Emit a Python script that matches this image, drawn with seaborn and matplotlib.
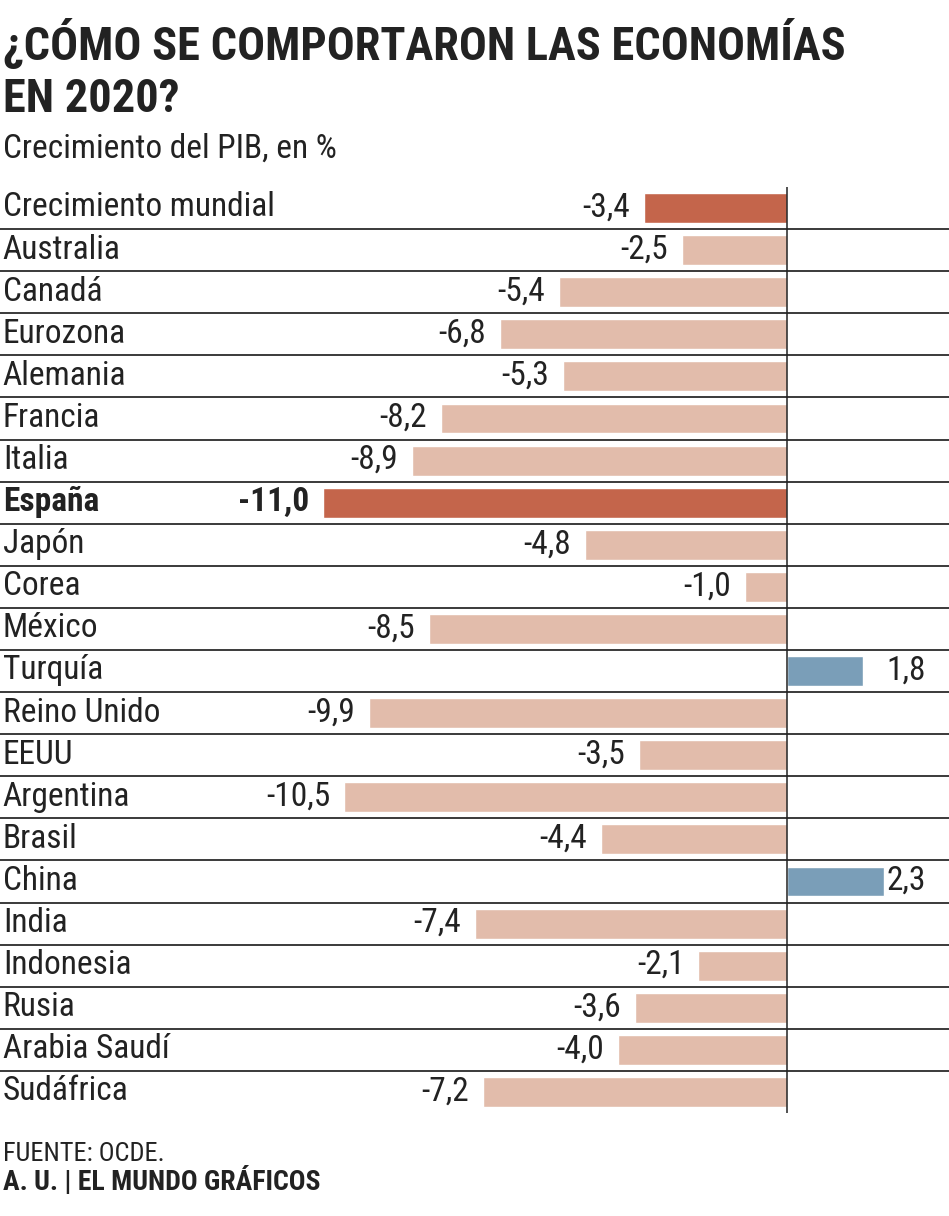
import matplotlib
matplotlib.use('Agg')
import matplotlib.pyplot as plt
from matplotlib import font_manager
import seaborn as sns
import pandas as pd

# datos
paises = ['Crecimiento mundial', 'Australia', 'Canadá', 'Eurozona', 'Alemania',
          'Francia', 'Italia', 'España', 'Japón', 'Corea', 'México', 'Turquía',
          'Reino Unido', 'EEUU', 'Argentina', 'Brasil', 'China', 'India',
          'Indonesia', 'Rusia', 'Arabia Saudí', 'Sudáfrica']
valores = [-3.4, -2.5, -5.4, -6.8, -5.3, -8.2, -8.9, -11.0, -4.8, -1.0, -8.5, 1.8,
           -9.9, -3.5, -10.5, -4.4, 2.3, -7.4, -2.1, -3.6, -4.0, -7.2]
destacados = ['Crecimiento mundial', 'España']

titulo = '¿CÓMO SE COMPORTARON LAS ECONOMÍAS\nEN 2020?'
subtitulo = 'Crecimiento del PIB, en %'
fuente_txt = 'FUENTE: OCDE.'
firma = 'A. U. | EL MUNDO GRÁFICOS'

ROJO = '#C4654B'
ROSA = '#E2BCAB'
AZUL = '#7A9EB8'

df = pd.DataFrame({'pais': paises, 'valor': valores})
colores = {}
for p, v in zip(paises, valores):
    if p in destacados:
        colores[p] = ROJO
    elif v > 0:
        colores[p] = AZUL
    else:
        colores[p] = ROSA

# estilo
sns.set_theme(style='white')
nombres = {f.name for f in font_manager.fontManager.ttflist}
letra = 'Roboto Condensed' if 'Roboto Condensed' in nombres else 'Roboto'
plt.rcParams['font.family'] = [letra, 'DejaVu Sans']

fig = plt.figure(figsize=(9.49, 12.16), dpi=100)
ax = fig.add_axes([0, 0.0847, 1, 0.7615])

sns.barplot(data=df, x='valor', y='pais', hue='pais', palette=colores, order=paises,
            legend=False, width=0.71, saturation=1, errorbar=None, ax=ax, zorder=2)

# lineas separadoras y eje cero
for i in range(len(paises) - 1):
    ax.axhline(i + 0.5, color='#3a3a3a', lw=1.4, zorder=1)
ax.axvline(0, color='#222222', lw=1.1, zorder=3)

ax.set_xlim(-18.66, 3.84)
ax.set_ylim(len(paises) - 0.5, -0.5)
ax.set_xlabel('')
ax.set_ylabel('')
ax.set_xticks([])
ax.set_yticks([])
sns.despine(ax=ax, left=True, bottom=True)

# etiquetas
TAM = 24
trans = ax.get_yaxis_transform()
for i, (p, v) in enumerate(zip(paises, valores)):
    peso = 'bold' if p == 'España' else 'normal'
    ax.text(0.003, i + 0.2, p, transform=trans, ha='left', va='baseline',
            fontsize=TAM, color='#222222', fontweight=peso)
    txt = f'{v:.1f}'.replace('.', ',')
    if v < 0:
        ax.annotate(txt, xy=(v, i + 0.2), xytext=(-14, 0), textcoords='offset pixels',
                    ha='right', va='baseline', fontsize=TAM, color='#222222',
                    fontweight=peso)
    else:
        ax.text(0.976, i + 0.2, txt, transform=trans, ha='right', va='baseline',
                fontsize=TAM, color='#222222')

# titulos
fig.text(0.003, 0.9507, titulo.split('\n')[0], fontsize=33.4, fontweight='bold',
         color='#222222', va='baseline')
fig.text(0.003, 0.9079, titulo.split('\n')[1], fontsize=33.4, fontweight='bold',
         color='#222222', va='baseline')
fig.text(0.003, 0.870, subtitulo, fontsize=24, color='#222222', va='baseline')
fig.text(0.003, 0.045, fuente_txt, fontsize=19, color='#222222', va='baseline')
fig.text(0.003, 0.0214, firma, fontsize=20, fontweight='bold', color='#222222',
         va='baseline')

fig.savefig('out.png', dpi=100, facecolor='white')
